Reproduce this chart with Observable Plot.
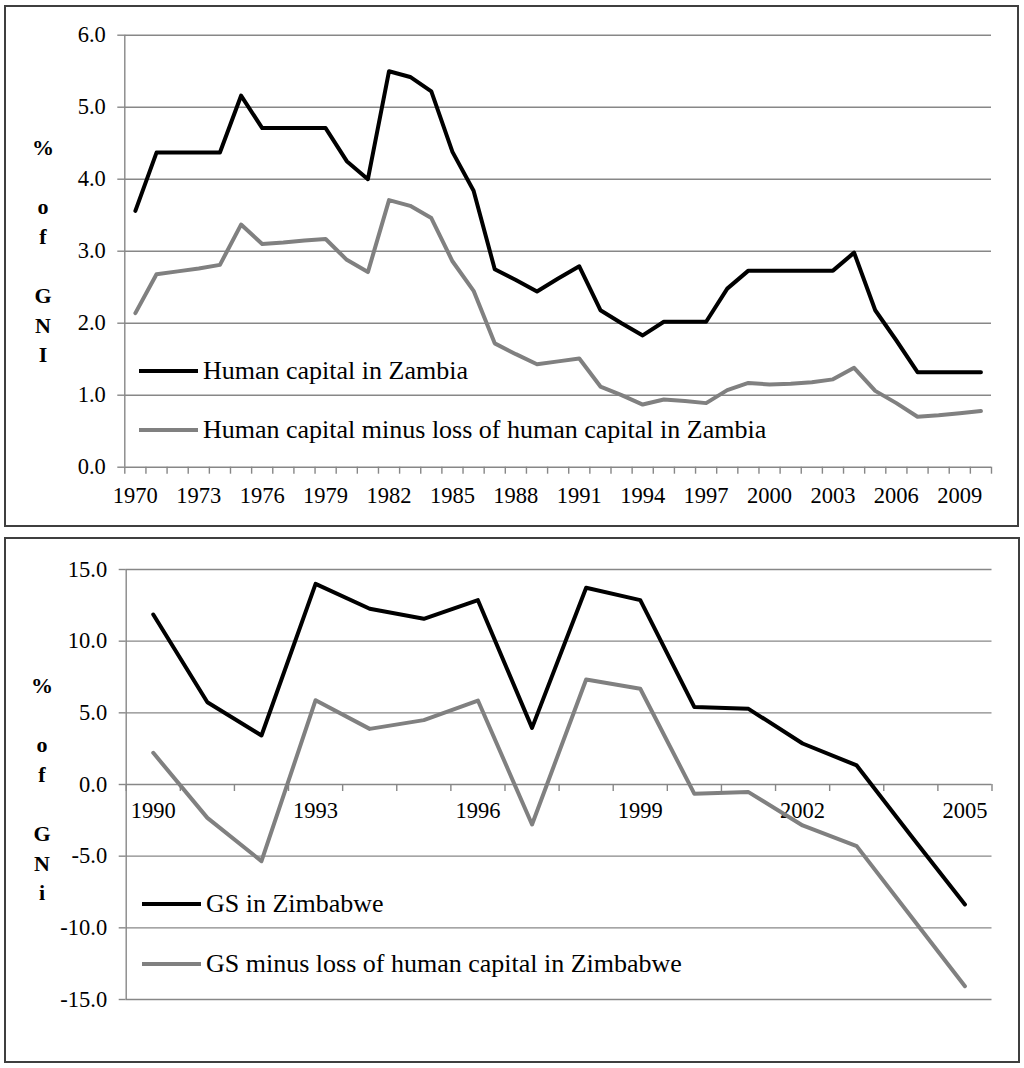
<!DOCTYPE html>
<html>
<head>
<meta charset="utf-8">
<script src="https://cdn.jsdelivr.net/npm/d3@7"></script>
<script src="https://cdn.jsdelivr.net/npm/@observablehq/plot@0.6"></script>
<style>
  html, body { margin: 0; padding: 0; background: #fff; }
  #page { position: relative; width: 1024px; height: 1068px; overflow: hidden; font-family: 'Liberation Serif', 'Times New Roman', serif; }
  #page svg, #page svg text { font-family: 'Liberation Serif', 'Times New Roman', serif !important; }
  .panel { position: absolute; box-sizing: border-box; border: 2px solid #3f3f3f; }
  .chart { position: absolute; left: 0; }
  .ylab { position: absolute; width: 40px; text-align: center; font-family: 'Liberation Serif', 'Times New Roman', serif; font-weight: bold; font-size: 22px; line-height: 29.6px; color: #000; }
  .legend { position: absolute; display: flex; align-items: center; font-family: 'Liberation Serif', 'Times New Roman', serif; font-size: 26px; color: #000; white-space: nowrap; }
  .legend .sw { display: inline-block; width: 59px; height: 4px; margin-right: 5px; }
</style>
</head>
<body>
<div id="page">
  <div class="panel" style="left:4px; top:5px; width:1015px; height:522px;"></div>
  <div class="panel" style="left:4px; top:537px; width:1016px; height:526px;"></div>
  <div id="top" class="chart" style="top:0px;"></div>
  <div id="bottom" class="chart" style="top:530px;"></div>
  <div id="ylabTop" class="ylab" style="left:23px; top:133px;"></div>
  <div id="ylabBottom" class="ylab" style="left:22px; top:671px;"></div>
  <div id="legTop1" class="legend" style="left:139px; top:353px; height:36px;"></div>
  <div id="legTop2" class="legend" style="left:139px; top:412px; height:36px;"></div>
  <div id="legBot1" class="legend" style="left:142px; top:886px; height:36px;"></div>
  <div id="legBot2" class="legend" style="left:142px; top:946px; height:36px;"></div>
</div>
<script>
// ---------- Data ----------
const zambiaYears = [1970,1971,1972,1973,1974,1975,1976,1977,1978,1979,
  1980,1981,1982,1983,1984,1985,1986,1987,1988,1989,
  1990,1991,1992,1993,1994,1995,1996,1997,1998,1999,
  2000,2001,2002,2003,2004,2005,2006,2007,2008,2009,2010];
const zambiaHumanCapital = [3.56,4.37,4.37,4.37,4.37,5.16,4.71,4.71,4.71,4.71,
  4.25,4.00,5.50,5.42,5.22,4.38,3.84,2.75,2.60,2.44,
  2.62,2.79,2.18,2.00,1.83,2.02,2.02,2.02,2.48,2.73,
  2.73,2.73,2.73,2.73,2.98,2.18,1.76,1.32,1.32,1.32,1.32];
const zambiaHumanCapitalMinusLoss = [2.14,2.68,2.72,2.76,2.81,3.37,3.10,3.12,3.15,3.17,
  2.88,2.71,3.71,3.63,3.46,2.86,2.45,1.72,1.57,1.43,
  1.47,1.51,1.12,1.00,0.87,0.94,0.92,0.89,1.07,1.17,
  1.15,1.16,1.18,1.22,1.38,1.06,0.89,0.70,0.72,0.75,0.78];
const zambiaTickLabels = [1970,1973,1976,1979,1982,1985,1988,1991,1994,1997,2000,2003,2006,2009];
const zambiaYTicks = [0,1,2,3,4,5,6];

const zimYears = [1990,1991,1992,1993,1994,1995,1996,1997,1998,1999,2000,2001,2002,2003,2004,2005];
const zimGS = [11.86,5.74,3.42,14.0,12.26,11.56,12.86,3.95,13.73,12.86,5.40,5.28,2.86,1.33,-3.56,-8.37];
const zimGSMinusLoss = [2.21,-2.33,-5.35,5.88,3.88,4.49,5.86,-2.79,7.33,6.68,-0.65,-0.53,-2.86,-4.30,-9.19,-14.07];
const zimTickLabels = [1990,1993,1996,1999,2002,2005];
const zimYTicks = [-15,-10,-5,0,5,10,15];

const seriesNamesTop = ["Human capital in Zambia", "Human capital minus loss of human capital in Zambia"];
const seriesNamesBottom = ["GS in Zimbabwe", "GS minus loss of human capital in Zimbabwe"];
const yLabelTop = ["%", "", "o", "f", "", "G", "N", "I"];
const yLabelBottom = ["%", "", "o", "f", "", "G", "N", "i"];

// ---------- Styles ----------
const FONT = "Liberation Serif";
const GRID = "#878787";
const BLACK = "#000000";
const GRAY = "#808080";

function rowsOf(years, vals) { return years.map((y, i) => ({year: y, value: vals[i]})); }

function makeChart({years, s1, s2, yTicks, labels, width, height, ml, mr, mt, mb, labelDy}) {
  const xDomain = [years[0] - 0.5, years[years.length - 1] + 0.5];
  const yDomain = [yTicks[0], yTicks[yTicks.length - 1]];
  const boundaries = d3.range(xDomain[0], xDomain[1] + 0.01, 1);
  const plotH = height - mt - mb;
  const tickLen = 7 * (yDomain[1] - yDomain[0]) / plotH; // 7px expressed in y units
  return Plot.plot({
    width, height,
    marginLeft: ml, marginRight: mr, marginTop: mt, marginBottom: mb,
    x: {domain: xDomain, axis: null},
    y: {domain: yDomain, axis: null},
    style: {fontFamily: FONT, fontSize: "22.5px", color: "#000", background: "transparent", overflow: "visible"},
    marks: [
      Plot.gridY(yTicks, {stroke: GRID, strokeOpacity: 1, strokeWidth: 1.4}),
      Plot.ruleX([xDomain[0]], {stroke: GRID, strokeWidth: 1.4}),
      Plot.axisY({ticks: yTicks, tickSize: 7, tickPadding: 12, tickFormat: d => d.toFixed(1),
        stroke: GRID, strokeWidth: 1.4, strokeOpacity: 1, label: null, fill: "#000", fontFamily: FONT}),
      Plot.ruleX(boundaries, {x: d => d, y1: 0, y2: -tickLen, stroke: GRID, strokeWidth: 1.4}),
      Plot.text(labels, {x: d => d, y: 0, dy: labelDy, text: d => String(d), fill: "#000", fontSize: 22.5, fontFamily: FONT}),
      Plot.line(rowsOf(years, s2), {x: "year", y: "value", stroke: GRAY, strokeWidth: 4, strokeLinejoin: "round", strokeLinecap: "round"}),
      Plot.line(rowsOf(years, s1), {x: "year", y: "value", stroke: BLACK, strokeWidth: 4, strokeLinejoin: "round", strokeLinecap: "round"})
    ]
  });
}

document.getElementById("top").appendChild(makeChart({
  years: zambiaYears, s1: zambiaHumanCapital, s2: zambiaHumanCapitalMinusLoss,
  yTicks: zambiaYTicks, labels: zambiaTickLabels,
  width: 1024, height: 530, ml: 124.3, mr: 33, mt: 34.7, mb: 63.3, labelDy: 28.3
}));

document.getElementById("bottom").appendChild(makeChart({
  years: zimYears, s1: zimGS, s2: zimGSMinusLoss,
  yTicks: zimYTicks, labels: zimTickLabels,
  width: 1024, height: 538, ml: 125.7, mr: 32.5, mt: 39, mb: 69, labelDy: 26.7
}));

document.getElementById("ylabTop").innerHTML = yLabelTop.map(c => c === "" ? "&nbsp;" : c).join("<br>");
document.getElementById("ylabBottom").innerHTML = yLabelBottom.map(c => c === "" ? "&nbsp;" : c).join("<br>");

function legend(id, name, color) {
  const el = document.getElementById(id);
  el.innerHTML = `<span class="sw" style="background:${color}"></span><span>${name}</span>`;
}
legend("legTop1", seriesNamesTop[0], BLACK);
legend("legTop2", seriesNamesTop[1], GRAY);
legend("legBot1", seriesNamesBottom[0], BLACK);
legend("legBot2", seriesNamesBottom[1], GRAY);
</script>
</body>
</html>
